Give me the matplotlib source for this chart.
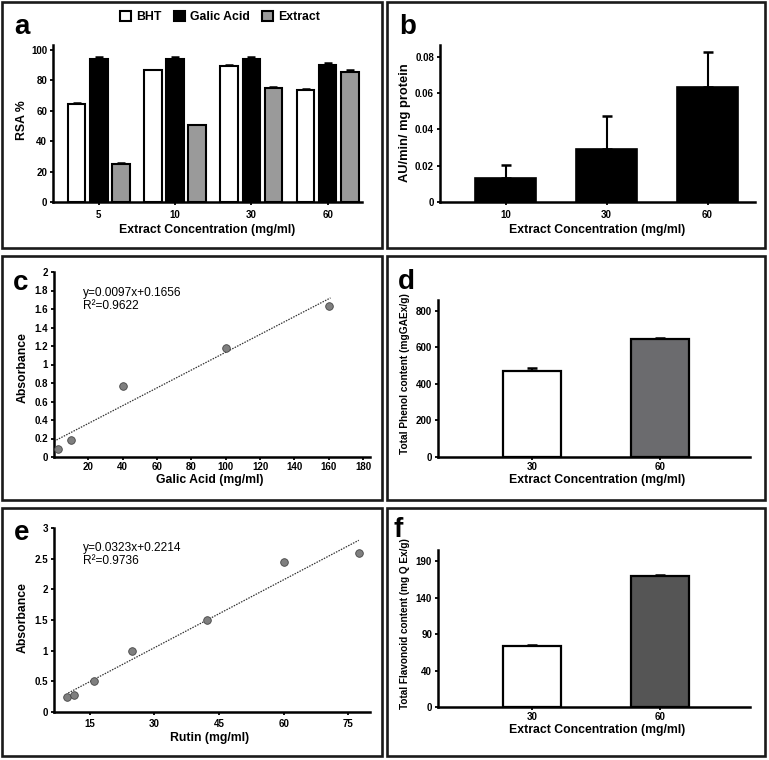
import matplotlib
matplotlib.use('Agg')
import matplotlib.pyplot as plt
import matplotlib.patches as mpatches
import numpy as np

# ---- data ----
conc_a = ['5', '10', '30', '60']
bht = [64.3, 86.3, 89.3, 73.3]
bht_err = [0.7, 0.6, 0.4, 0.7]
galic = [93.9, 93.9, 94.1, 90.2]
galic_err = [1.3, 1.0, 1.3, 0.8]
extract = [24.8, 50.2, 74.8, 85.6]
extract_err = [0.9, 0.5, 0.8, 0.9]

conc_b = ['10', '30', '60']
activity = [0.0134, 0.0293, 0.0635]
activity_err = [0.0067, 0.0183, 0.0189]

galic_x = [2.5, 10, 40, 100, 160]
galic_abs = [0.083, 0.187, 0.764, 1.18, 1.636]
galic_fit_x = [0, 161]
galic_fit_y = [0.17, 1.72]

conc_d = ['30', '60']
phenol = [470, 648]
phenol_err = [20, 6]

rutin_x = [9.65, 11.4, 15.9, 24.8, 42.3, 60.0, 77.4]
rutin_abs = [0.245, 0.28, 0.50, 0.99, 1.505, 2.44, 2.60]
rutin_fit_x = [10.0, 77.4]
rutin_fit_y = [0.31, 2.80]

conc_f = ['30', '60']
flavonoid = [74, 170]
flavonoid_err = [0.6, 1.2]
flav_ticks = [0, 40, 90, 140, 190]

plt.rcParams['font.family'] = ['Liberation Sans', 'DejaVu Sans']
plt.rcParams['font.weight'] = 'bold'
plt.rcParams['axes.labelweight'] = 'bold'

W, H = 769, 760
fig = plt.figure(figsize=(W / 100, H / 100), dpi=100)


def px_axes(left, top, right, bottom):
    return fig.add_axes([left / W, 1 - bottom / H, (right - left) / W, (bottom - top) / H])


def fig_text(x, y, s, **kw):
    fig.text(x / W, 1 - y / H, s, **kw)


def style(ax, xlab, ylab, xl_px, yl_px, ylab_size=8.8, xpad=3.0):
    for s in ['top', 'right']:
        ax.spines[s].set_visible(False)
    for s in ['left', 'bottom']:
        ax.spines[s].set_linewidth(1.8)
    ax.tick_params(axis='both', direction='out', length=2.5, width=1.3, labelsize=7, pad=1.8)
    ax.tick_params(axis='x', pad=xpad)
    # label positions given in pixels
    bb = ax.get_position()
    ax.set_xlabel(xlab, fontsize=8.8, va='center')
    ax.xaxis.set_label_coords((xl_px[0] / W - bb.x0) / bb.width, ((1 - xl_px[1] / H) - bb.y0) / bb.height)
    ax.set_ylabel(ylab, fontsize=ylab_size, va='center')
    ax.yaxis.set_label_coords((yl_px[0] / W - bb.x0) / bb.width, ((1 - yl_px[1] / H) - bb.y0) / bb.height)


def frame(left, top, right, bottom):
    fig.patches.append(mpatches.Rectangle((left / W, 1 - bottom / H), (right - left) / W, (bottom - top) / H,
                                          transform=fig.transFigure, fill=False, edgecolor='#1a1a1a', lw=1.9))


frame(2, 2, 382, 248)
frame(387, 2, 765, 248)
frame(2, 255.5, 382, 500)
frame(387, 255.5, 765, 500)
frame(2, 507.5, 382, 755.5)
frame(387, 507.5, 765, 755.5)

err_kw = dict(fmt='none', ecolor='black', elinewidth=1.5, capthick=1.8, zorder=1)
ann_kw = dict(fontsize=8.6, fontweight='normal', va='center')
letter_kw = dict(fontsize=20, fontweight='bold', ha='center', va='center')

# ---- a ----
ax = px_axes(53, 45, 362, 202)
xa = np.arange(len(conc_a))
off, bw = 0.29, 0.23
for i, (vals, errs, col) in enumerate([(bht, bht_err, 'white'), (galic, galic_err, 'black'),
                                       (extract, extract_err, '#9a9a9a')]):
    ax.errorbar(xa + (i - 1) * off, vals, yerr=[np.zeros(4), errs], capsize=3, **err_kw)
    ax.bar(xa + (i - 1) * off, vals, bw, color=col, edgecolor='black', linewidth=1.5, zorder=2)
ax.set_xlim(-0.60, 3.45)
ax.set_ylim(0, 103)
ax.set_xticks(xa, conc_a)
ax.set_yticks([0, 20, 40, 60, 80, 100])
style(ax, 'Extract Concentration (mg/ml)', 'RSA %', (207, 230), (22, 120))
handles = [mpatches.Patch(facecolor=c, edgecolor='black', linewidth=1.5) for c in ['white', 'black', '#9a9a9a']]
fig.legend(handles, ['BHT', 'Galic Acid', 'Extract'], loc='center', bbox_to_anchor=(220 / W, 1 - 17 / H),
           ncol=3, frameon=False, handlelength=0.9, handleheight=0.9, handletextpad=0.4,
           columnspacing=1.0, prop={'weight': 'bold', 'size': 8.8})
fig_text(21.7, 27, 'a', **letter_kw)

# ---- b ----
ax = px_axes(440, 45, 755, 202)
xb = np.arange(len(conc_b))
ax.errorbar(xb, activity, yerr=[np.zeros(3), activity_err], capsize=3.5, **err_kw)
ax.bar(xb, activity, 0.60, color='black', edgecolor='black', linewidth=1.2, zorder=2)
ax.set_xlim(-0.65, 2.47)
ax.set_ylim(0, 0.0864)
ax.set_xticks(xb, conc_b)
ax.set_yticks([0, 0.02, 0.04, 0.06, 0.08], ['0', '0.02', '0.04', '0.06', '0.08'])
style(ax, 'Extract Concentration (mg/ml)', 'AU/min/ mg protein', (597, 230), (405, 123), ylab_size=9.3)
fig_text(408, 27, 'b', **letter_kw)

# ---- c ----
ax = px_axes(54, 272, 370, 457)
ax.plot(galic_fit_x, galic_fit_y, color='#333333', lw=0.9, ls=(0, (1.2, 1.0)), zorder=1)
ax.scatter(galic_x, galic_abs, s=30, color='#7f7f7f', edgecolor='#444444', linewidth=0.6, zorder=3, clip_on=False)
ax.set_xlim(0, 184)
ax.set_ylim(0, 2)
ax.set_xticks(np.arange(20, 181, 20))
ax.set_yticks(np.arange(0, 2.01, 0.2), ['0', '0.2', '0.4', '0.6', '0.8', '1', '1.2', '1.4', '1.6', '1.8', '2'])
style(ax, 'Galic Acid (mg/ml)', 'Absorbance', (210, 480), (22.7, 368), xpad=1.2)
fig_text(83, 293, 'y=0.0097x+0.1656', **ann_kw)
fig_text(83, 306, 'R²=0.9622', **ann_kw)
fig_text(20.7, 283, 'c', **letter_kw)

# ---- d ----
ax = px_axes(438, 300, 750, 457)
xd = np.arange(len(conc_d))
ax.errorbar(xd, phenol, yerr=[np.zeros(2), phenol_err], capsize=3.5, **err_kw)
ax.bar(xd, phenol, 0.45, color=['white', '#6b6b6e'], edgecolor='black', linewidth=1.6, zorder=2)
ax.set_xlim(-0.73, 1.70)
ax.set_ylim(0, 860)
ax.set_xticks(xd, conc_d)
ax.set_yticks([0, 200, 400, 600, 800])
style(ax, 'Extract Concentration (mg/ml)', 'Total Phenol content (mgGAEx/g)', (597, 480), (405, 374),
      ylab_size=7.3, xpad=1.2)
fig_text(406.7, 282, 'd', **letter_kw)

# ---- e ----
ax = px_axes(54, 528, 370, 712)
ax.plot(rutin_fit_x, rutin_fit_y, color='#333333', lw=0.9, ls=(0, (1.2, 1.0)), zorder=1)
ax.scatter(rutin_x, rutin_abs, s=30, color='#7f7f7f', edgecolor='#444444', linewidth=0.6, zorder=3, clip_on=False)
ax.set_xlim(6.7, 80)
ax.set_ylim(0, 3)
ax.set_xticks([15, 30, 45, 60, 75])
ax.set_yticks([0, 0.5, 1, 1.5, 2, 2.5, 3], ['0', '0.5', '1', '1.5', '2', '2.5', '3'])
style(ax, 'Rutin (mg/ml)', 'Absorbance', (210, 738), (23, 618), xpad=2.6)
fig_text(83, 548, 'y=0.0323x+0.2214', **ann_kw)
fig_text(83, 561, 'R²=0.9736', **ann_kw)
fig_text(21.7, 533, 'e', **letter_kw)

# ---- f ----
ax = px_axes(438, 550, 750, 707)


def f_fwd(y):
    y = np.asarray(y, dtype=float)
    return np.where(y < 40, y * 1.25, y + 10)


def f_inv(z):
    z = np.asarray(z, dtype=float)
    return np.where(z < 50, z / 1.25, z - 10)


ax.set_yscale('function', functions=(f_fwd, f_inv))
xf = np.arange(len(conc_f))
ax.errorbar(xf, flavonoid, yerr=[np.zeros(2), flavonoid_err], capsize=3.5, **err_kw)
ax.bar(xf, flavonoid, 0.45, color=['white', '#555555'], edgecolor='black', linewidth=1.6, zorder=2)
ax.set_xlim(-0.73, 1.70)
ax.set_ylim(0, 205.6)
ax.set_xticks(xf, conc_f)
ax.set_yticks(flav_ticks, [str(t) for t in flav_ticks])
ax.yaxis.set_minor_locator(matplotlib.ticker.NullLocator())
style(ax, 'Extract Concentration (mg/ml)', 'Total Flavonoid content (mg Q Ex/g)', (597, 730), (405, 624),
      ylab_size=7.2, xpad=1.2)
fig_text(398, 530, 'f', **letter_kw)

fig.savefig('out.png', dpi=100)
